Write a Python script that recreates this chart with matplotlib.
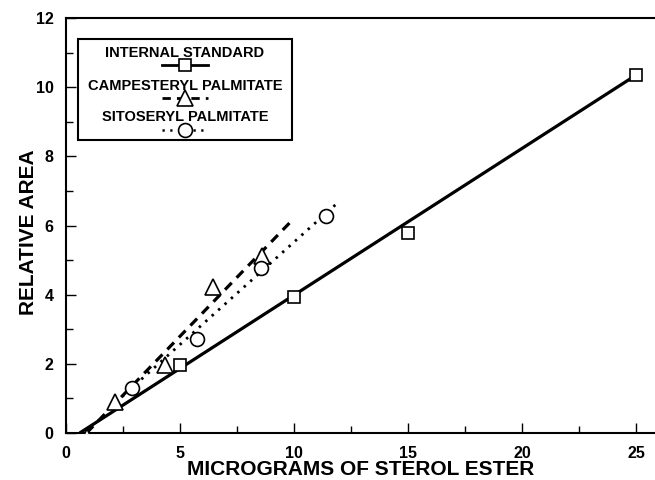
import numpy as np
import matplotlib
matplotlib.use("Agg")
import matplotlib.pyplot as plt
from matplotlib.lines import Line2D
from matplotlib.patches import Rectangle

plt.rcParams['font.family'] = ['Liberation Sans', 'DejaVu Sans']
plt.rcParams['font.weight'] = 'bold'

# internal standard (squares)
std_x = [5.0, 10.0, 15.0, 25.0]
std_y = [1.97, 3.93, 5.78, 10.35]
std_line_x = [0.6, 25.0]
std_line_y = [0.0, 10.35]

# campesteryl palmitate (triangles)
camp_x = [0.9, 2.15, 4.34, 6.46, 8.61]
camp_y = [-0.12, 0.91, 1.97, 4.23, 5.11]
camp_line_x = [0.9, 9.9]
camp_line_y = [0.0, 6.14]

# sitosteryl palmitate (circles)
sito_x = [2.88, 5.73, 8.55, 11.39]
sito_y = [1.29, 2.71, 4.77, 6.28]
sito_line_x = [1.9, 11.87]
sito_line_y = [0.72, 6.63]

W, H = 655, 480
fig = plt.figure(figsize=(W/100, H/100), dpi=100)
ax = fig.add_axes([66/W, 1-433/H, (W-66)/W, (433-18)/H])

DASH = (0, (3, 2.2))
DOT = (0, (0.9, 2.2))

ax.plot(std_line_x, std_line_y, color='k', lw=2.3, solid_capstyle='butt')
ax.plot(camp_line_x, camp_line_y, color='k', lw=2.3, linestyle=DASH)
ax.plot(sito_line_x, sito_line_y, color='k', lw=2.0, linestyle=DOT)

mk = dict(linestyle='none', markerfacecolor='white', markeredgecolor='k',
          markeredgewidth=1.2, zorder=3)
ax.plot(std_x, std_y, marker='s', markersize=9, **mk)
ax.plot(camp_x, camp_y, marker='^', markersize=12, **mk)
ax.plot(sito_x, sito_y, marker='o', markersize=10, **mk)

ax.set_xlim(0, 25.83)
ax.set_ylim(0, 12)
ax.set_xticks([0, 5, 10, 15, 20, 25])
ax.set_xticks([2.5, 7.5, 12.5, 17.5, 22.5], minor=True)
ax.set_yticks([0, 2, 4, 6, 8, 10, 12])
ax.set_yticks([1, 3, 5, 7, 9, 11], minor=True)
ax.tick_params(which='both', direction='in', width=1, labelsize=11.5)
ax.tick_params(which='major', length=7, pad=9)
ax.tick_params(which='minor', length=5)
ax.spines['right'].set_visible(False)
for s in ['left', 'bottom', 'top']:
    ax.spines[s].set_linewidth(1.5)
for lab in ax.get_xticklabels() + ax.get_yticklabels():
    lab.set_fontweight('bold')

ax.set_xlabel("MICROGRAMS OF STEROL ESTER", fontsize=15, fontweight='bold')
ax.xaxis.set_label_coords(0.5, -0.065)
ax.set_ylabel("RELATIVE AREA", fontsize=15, fontweight='bold')
ax.yaxis.set_label_coords(-0.047, 0.485)

# legend box drawn by hand
def fx(px):
    return px / W

def fy(py):
    return 1 - py / H

fig.add_artist(Rectangle((fx(78), fy(140)), fx(292) - fx(78), fy(39) - fy(140),
                         transform=fig.transFigure, fill=False, lw=1.5, ec='k'))
entries = [
    ("INTERNAL STANDARD", 53, 65, 's', 9, '-', 2.0),
    ("CAMPESTERYL PALMITATE", 86, 98, '^', 12, DASH, 2.0),
    ("SITOSERYL PALMITATE", 117, 130, 'o', 10, DOT, 1.8),
]
for text, ty, ly, m, ms, ls, lw in entries:
    fig.text(fx(185), fy(ty), text, ha='center', va='center',
             fontsize=10.5, fontweight='bold')
    fig.add_artist(Line2D([fx(162), fx(208)], [fy(ly), fy(ly)], transform=fig.transFigure,
                          color='k', lw=lw, linestyle=ls))
    fig.add_artist(Line2D([fx(185)], [fy(ly)], transform=fig.transFigure, marker=m,
                          markersize=ms, markerfacecolor='white', markeredgecolor='k',
                          markeredgewidth=1.2, linestyle='none'))

fig.savefig("out.png", dpi=100)
